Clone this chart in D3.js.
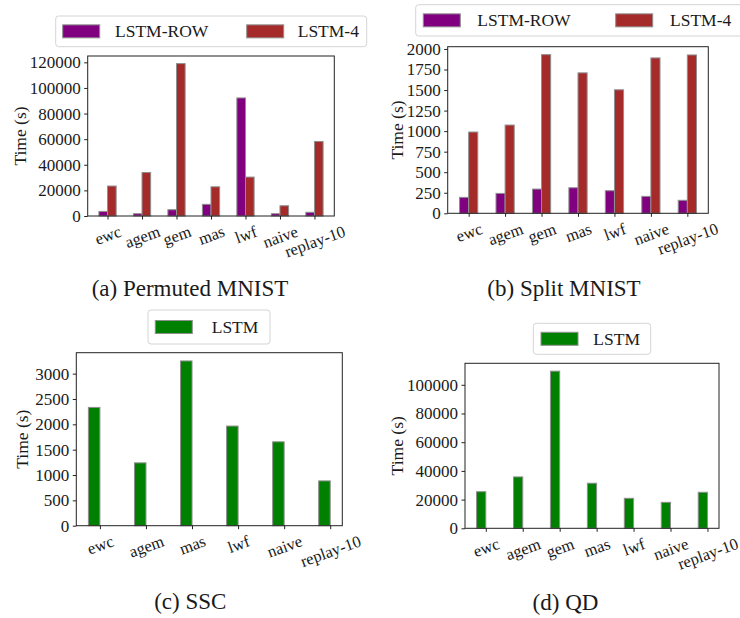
<!DOCTYPE html>
<html><head><meta charset="utf-8">
<script src="https://cdn.jsdelivr.net/npm/d3@7"></script>
<style>body{margin:0;background:#fff}svg{display:block}</style>
</head><body>
<script>
// ---- data ----
const catsSeven = ["ewc","agem","gem","mas","lwf","naive","replay-10"];
const catsSSC = ["ewc","agem","mas","lwf","naive","replay-10"];
const pmnistRow = [3600, 1800, 4900, 9100, 92200, 1800, 2900];
const pmnist4 = [23400, 34000, 119000, 22800, 30400, 8000, 58200];
const smnistRow = [194, 242, 295, 311, 275, 206, 158];
const smnist4 = [989, 1074, 1931, 1709, 1503, 1891, 1927];
const sscLstm = [2334, 1240, 3251, 1966, 1655, 884];
const qdLstm = [25500, 35800, 109500, 31400, 20900, 18100, 25100];
const ticksA = [0,20000,40000,60000,80000,100000,120000];
const ticksB = [0,250,500,750,1000,1250,1500,1750,2000];
const ticksC = [0,500,1000,1500,2000,2500,3000];
const ticksD = [0,20000,40000,60000,80000,100000];
const seriesNames2 = ["LSTM-ROW","LSTM-4"];
const seriesNames1 = ["LSTM"];
const captions = ["(a) Permuted MNIST","(b) Split MNIST","(c) SSC","(d) QD"];

const FONT = "'Liberation Serif', 'DejaVu Serif', serif";
const TXT = "#1a1a1a";
const W = 740, H = 618;
const svg = d3.select("body").append("svg").attr("width", W).attr("height", H)
  .attr("font-family", FONT);

const panels = [
  {cats: catsSeven, series: [pmnistRow, pmnist4], names: seriesNames2, colors: ["#800080","#a52a2a"], ticks: ticksA,
   box: {l: 87.7, r: 334.3, t: 56, b: 216}, ylabX: 19.5,
   legend: {x: 55.7, y: 16, w: 311, h: 30.7, items: [{px: 62.7, tx: 115}, {px: 246.7, tx: 297.7}]},
   caption: {x: 190, y: 296, text: captions[0]}},
  {cats: catsSeven, series: [smnistRow, smnist4], names: seriesNames2, colors: ["#800080","#a52a2a"], ticks: ticksB,
   box: {l: 447.7, r: 708.3, t: 46.7, b: 213.3}, ylabX: 396.7,
   legend: {x: 415.7, y: 4.7, w: 330, h: 31.3, items: [{px: 423.3, tx: 477.3}, {px: 615.7, tx: 670}]},
   caption: {x: 564, y: 296, text: captions[1]}},
  {cats: catsSSC, series: [sscLstm], names: seriesNames1, colors: ["#008000"], ticks: ticksC,
   box: {l: 76.3, r: 342.3, t: 352.7, b: 525.7}, ylabX: 21.7,
   legend: {x: 148, y: 310, w: 122, h: 34, items: [{px: 155.3, tx: 211.7}]},
   caption: {x: 190.3, y: 609, text: captions[2]}},
  {cats: catsSeven, series: [qdLstm], names: seriesNames1, colors: ["#008000"], ticks: ticksD,
   box: {l: 465, r: 719, t: 363.3, b: 528.3}, ylabX: 396.7,
   legend: {x: 533.3, y: 323.3, w: 117.4, h: 31, items: [{px: 541, tx: 593.3}]},
   caption: {x: 565.5, y: 610, text: captions[3]}}
];

const FS = 17.5, FSX = 16.5, BW = 0.25, ROT = 20;

function styleText(sel, size) {
  sel.attr("font-family", FONT).attr("font-size", size).attr("fill", TXT);
}

panels.forEach(p => {
  const n = p.series.length, N = p.cats.length;
  const lo = -BW, hi = (N - 1) + (n - 1) * BW;
  const m = 0.05 * (hi - lo);
  const x = d3.scaleLinear().domain([lo - m, hi + m]).range([p.box.l, p.box.r]);
  const ymax = d3.max(p.series.flat()) * 1.05;
  const y = d3.scaleLinear().domain([0, ymax]).range([p.box.b, p.box.t]);
  const g = svg.append("g");

  // bars
  p.series.forEach((vals, k) => {
    g.selectAll(null).data(vals).enter().append("rect")
      .attr("x", (d, i) => x(i - BW + k * BW))
      .attr("width", (d, i) => x(i + k * BW) - x(i - BW + k * BW))
      .attr("y", d => y(d))
      .attr("height", d => y(0) - y(d))
      .attr("fill", p.colors[k])
      .attr("stroke", "#8f8f8f").attr("stroke-width", 1);
  });

  // spines
  g.append("rect").attr("x", p.box.l).attr("y", p.box.t)
    .attr("width", p.box.r - p.box.l).attr("height", p.box.b - p.box.t)
    .attr("fill", "none").attr("stroke", "#222").attr("stroke-width", 1);

  // y axis
  const ya = g.append("g").attr("transform", `translate(${p.box.l},0)`)
    .call(d3.axisLeft(y).tickValues(p.ticks).tickFormat(d3.format("d")).tickSize(3.5).tickPadding(3.5));
  ya.attr("font-family", FONT);
  ya.select(".domain").remove();
  ya.selectAll(".tick line").attr("stroke", "#222");
  styleText(ya.selectAll("text"), 17);

  // x axis
  const xa = g.append("g").attr("transform", `translate(0,${p.box.b})`)
    .call(d3.axisBottom(x).tickValues(d3.range(N)).tickFormat(i => p.cats[i]).tickSize(3.5).tickPadding(3.5));
  xa.attr("font-family", FONT);
  xa.select(".domain").remove();
  xa.selectAll(".tick line").attr("stroke", "#222");
  const th = ROT * Math.PI / 180;
  styleText(xa.selectAll("text"), FSX);
  xa.selectAll("text")
    .attr("dy", null).attr("text-anchor", "middle").attr("dominant-baseline", "central")
    .each(function() {
      const bb = this.getBBox();
      const w = bb.width, h = FSX * 1.0;
      const Hr = w * Math.sin(th) + h * Math.cos(th);
      const cy = 7 + Hr / 2;
      d3.select(this).attr("y", cy).attr("transform", `rotate(${-ROT},0,${cy})`);
    });

  // y label
  const cyMid = (p.box.t + p.box.b) / 2;
  styleText(g.append("text").attr("x", p.ylabX).attr("y", cyMid)
    .attr("text-anchor", "middle").attr("dominant-baseline", "central")
    .attr("transform", `rotate(-90,${p.ylabX},${cyMid})`).text("Time (s)"), FS);

  // legend
  const L = p.legend;
  g.append("rect").attr("x", L.x).attr("y", L.y).attr("width", L.w).attr("height", L.h)
    .attr("rx", 3).attr("fill", "#fff").attr("fill-opacity", 0.8).attr("stroke", "#d4d4d4");
  L.items.forEach((it, k) => {
    const py = L.y + L.h / 2;
    g.append("rect").attr("x", it.px).attr("y", py - 6.5).attr("width", 37).attr("height", 13)
      .attr("fill", p.colors[k]).attr("stroke", "#8f8f8f");
    styleText(g.append("text").attr("x", it.tx).attr("y", py).attr("dominant-baseline", "central")
      .text(p.names[k]), FS);
  });

  // caption
  styleText(svg.append("text").attr("x", p.caption.x).attr("y", p.caption.y).attr("text-anchor", "middle")
    .text(p.caption.text), 23);
});
</script>
</body></html>
